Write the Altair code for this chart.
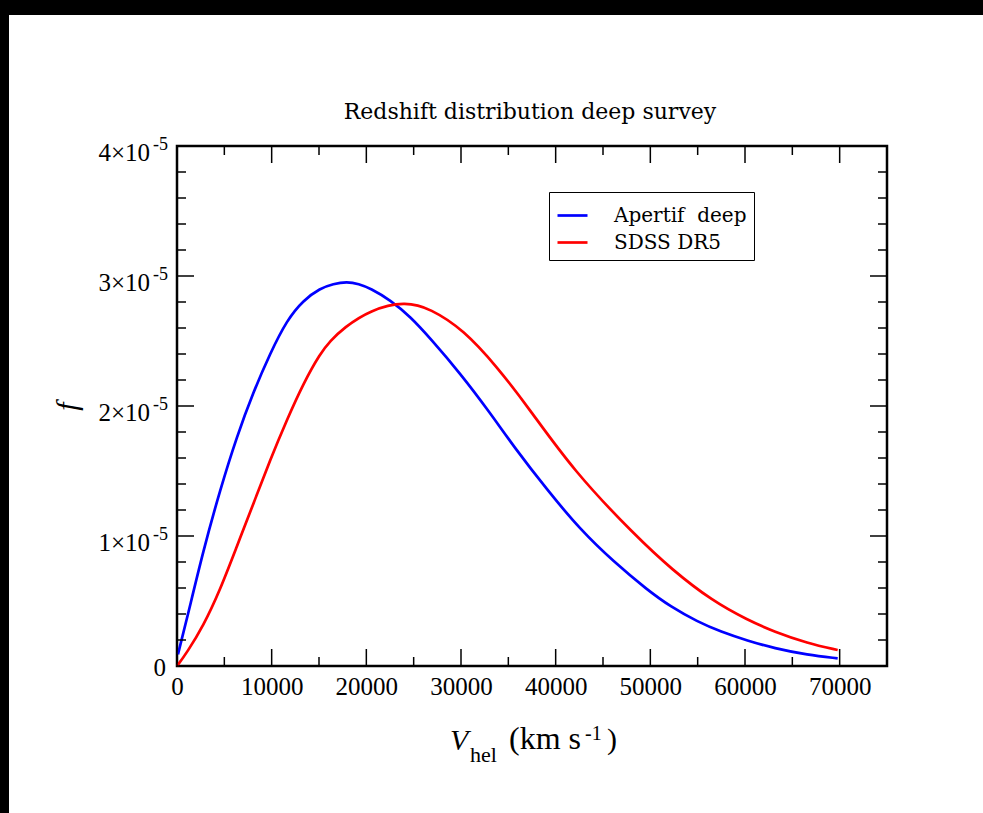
import altair as alt
import pandas as pd

# ---------------- data (f in units of 1e-5) ----------------
series_names = ["Apertif\u00a0 deep", "SDSS DR5"]
series_colors = ["#0000ff", "#ff0000"]

apertif_v = [100, 1020, 2790, 4550, 6310, 8080, 9840, 11600, 13360, 15130, 16500,
             17950, 19200, 20420, 22530, 24650, 26760, 29940, 33110, 35580, 39110,
             42630, 46160, 49690, 52150, 54980, 57440, 60270, 63080, 66610, 69790]
apertif_f = [0.09, 0.354, 0.892, 1.354, 1.764, 2.11, 2.405, 2.66, 2.815, 2.905, 2.94,
             2.956, 2.94, 2.905, 2.815, 2.687, 2.52, 2.25, 1.944, 1.687, 1.354,
             1.046, 0.80, 0.585, 0.456, 0.341, 0.264, 0.195, 0.136, 0.085, 0.059]

sdss_v = [0, 1020, 2790, 4550, 6310, 8080, 9840, 11600, 13360, 15130, 16190, 17590,
          20420, 24100, 26760, 30290, 33820, 37000, 41890, 48450, 52300, 56560,
          60270, 63080, 66610, 69790]
sdss_f = [0.0, 0.10, 0.31, 0.585, 0.918, 1.25, 1.585, 1.892, 2.175, 2.405, 2.5, 2.6,
          2.74, 2.805, 2.75, 2.585, 2.30, 2.0, 1.5, 1.0, 0.74, 0.5,
          0.354, 0.264, 0.175, 0.123]

x_major = [0, 10000, 20000, 30000, 40000, 50000, 60000, 70000]
x_minor = [5000, 15000, 25000, 35000, 45000, 55000, 65000, 75000]
y_major = [0, 1, 2, 3, 4]
y_minor = [0.2, 0.4, 0.6, 0.8, 1.2, 1.4, 1.6, 1.8, 2.2, 2.4, 2.6, 2.8,
           3.2, 3.4, 3.6, 3.8]
y_label_vals = [1, 2, 3, 4]
y_label_main = ["1×10", "2×10", "3×10", "4×10"]
y_label_sup = ["-5", "-5", "-5", "-5"]

title_text = "Redshift distribution deep survey"

# ---------------- build ----------------
W, H = 710, 520
FONT = "Liberation Serif"
TFONT = "DejaVu Serif"
E = 1e-5

df_lines = pd.DataFrame({
    "V": apertif_v + sdss_v,
    "f": [v * E for v in apertif_f] + [v * E for v in sdss_f],
    "series": [series_names[0]] * len(apertif_v) + [series_names[1]] * len(sdss_v),
})

xscale = alt.Scale(domain=[0, 75000], nice=False, zero=False)
yscale = alt.Scale(domain=[0, 4 * E], nice=False, zero=False)

x_axis = alt.Axis(
    values=x_major, format="d", labelFont=FONT, labelFontSize=25,
    labelColor="black", ticks=False, tickSize=0, domain=False, grid=False,
    labelPadding=8, labelFlush=False, labelOverlap=False, title=None)
y_axis = alt.Axis(
    labels=False, ticks=False, tickSize=0, domain=False, grid=False,
    title="f", titleFont=FONT, titleFontSize=30, titleFontStyle="italic",
    titleFontWeight="normal", titleColor="black", titleX=-110, titleY=260,
    titleAngle=270, titleAlign="center", titleBaseline="middle")


def X(field="V:Q"):
    return alt.X(field, scale=xscale, axis=x_axis)


def Y(field="f:Q"):
    return alt.Y(field, scale=yscale, axis=y_axis)


lines = alt.Chart(df_lines).mark_line(strokeWidth=2.7, interpolate="basis").encode(
    x=X(), y=Y(),
    color=alt.Color("series:N", scale=alt.Scale(domain=series_names, range=series_colors),
                    legend=alt.Legend(title=None, orient="none", legendX=372, legendY=46,
                                      strokeColor="black", padding=7, symbolType="stroke",
                                      symbolSize=900, symbolStrokeWidth=2.7,
                                      labelFont=TFONT, labelFontSize=20, labelColor="black",
                                      labelOffset=25, rowPadding=0)),
)


def xticks(vals, length):
    d = pd.DataFrame({"V": vals})
    base = alt.Chart(d).mark_rule(color="black", strokeWidth=1.5)
    bottom = base.encode(x=X(), y=alt.value(H), y2=alt.value(H - length))
    top = base.encode(x=X(), y=alt.value(0), y2=alt.value(length))
    return [bottom, top]


def yticks(vals, length):
    d = pd.DataFrame({"f": [v * E for v in vals]})
    base = alt.Chart(d).mark_rule(color="black", strokeWidth=1.5)
    left = base.encode(y=Y(), x=alt.value(0), x2=alt.value(length))
    right = base.encode(y=Y(), x=alt.value(W), x2=alt.value(W - length))
    return [left, right]


tick_layers = xticks(x_major, 17) + xticks(x_minor, 9) + yticks(y_major, 17) + yticks(y_minor, 9)

ylab = pd.DataFrame({"f": [v * E for v in y_label_vals], "main": y_label_main, "sup": y_label_sup})
ylab_main = alt.Chart(ylab).mark_text(align="right", baseline="alphabetic", font=FONT,
                                      fontSize=25, dy=15, color="black").encode(
    x=alt.value(-27), y=Y(), text="main:N")
ylab_sup = alt.Chart(ylab).mark_text(align="left", baseline="alphabetic", font=FONT,
                                     fontSize=18, dy=4, color="black").encode(
    x=alt.value(-24), y=Y(), text="sup:N")
ylab_zero = alt.Chart(pd.DataFrame({"f": [0.0], "t": ["0"]})).mark_text(
    align="right", baseline="alphabetic", font=FONT, fontSize=25, dy=10, color="black").encode(
    x=alt.value(-11), y=Y(), text="t:N")


def label(txt, x, y, size, align="left", style="normal", font=FONT):
    return alt.Chart(pd.DataFrame({"t": [txt]})).mark_text(
        align=align, baseline="alphabetic", font=font, fontSize=size,
        fontStyle=style, color="black").encode(x=alt.value(x), y=alt.value(y), text="t:N")


title_layer = label(title_text, 353, -27, 22, align="center", font=TFONT)
xtitle = [
    label("V", 273, 604, 30, style="italic"),
    label("hel", 293, 616, 22),
    label("(km s", 368, 603, 32, align="center"),
    label("-1", 408, 594, 20),
    label(")", 430, 603, 30),
]

frame_bits = [
    alt.Chart(pd.DataFrame({"a": [0]})).mark_rect(color="black").encode(
        x=alt.value(-177), x2=alt.value(-168), y=alt.value(-146), y2=alt.value(813 - 146)),
    alt.Chart(pd.DataFrame({"a": [0]})).mark_rect(color="black").encode(
        x=alt.value(-177), x2=alt.value(983 - 177), y=alt.value(-146), y2=alt.value(-131)),
]

chart = alt.layer(
    *frame_bits, lines, *tick_layers, ylab_main, ylab_sup, ylab_zero, title_layer, *xtitle
).properties(width=W, height=H, padding=0, background="white").configure_view(
    stroke="black", strokeWidth=2.5
)

chart.save("out.html", embed_options={"renderer": "svg", "actions": False})
